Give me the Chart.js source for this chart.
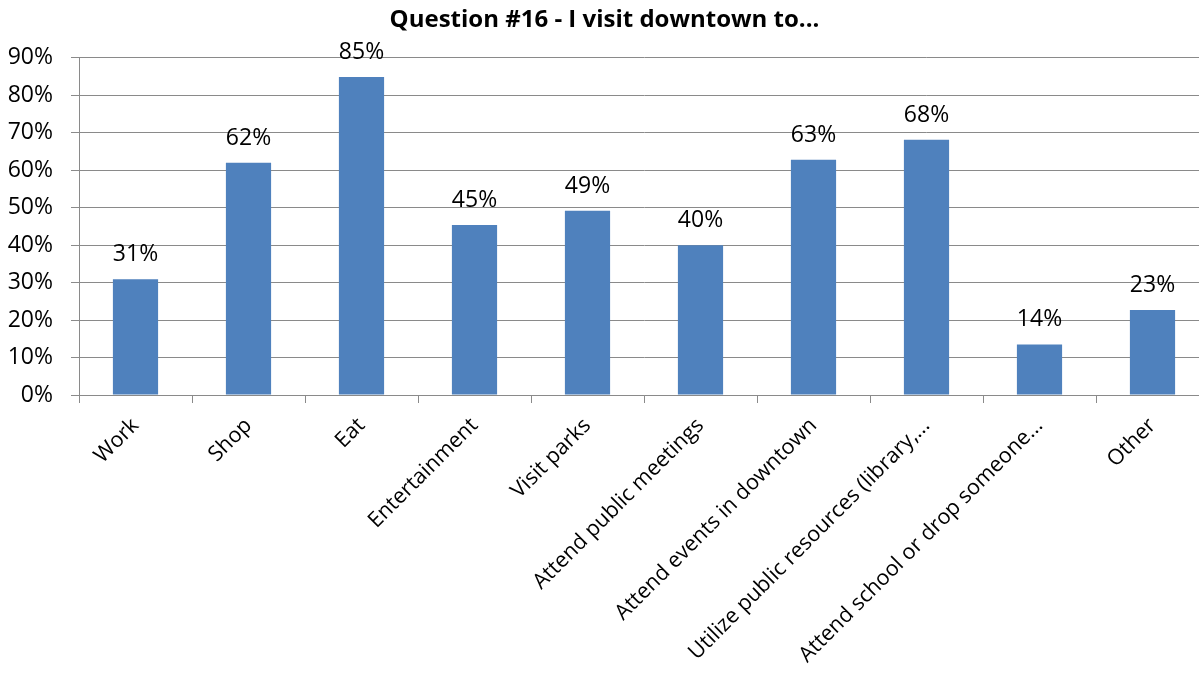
<!DOCTYPE html>
<html>
<head>
    <title>Question #16 - I visit downtown to...</title>
    <script src="https://cdn.jsdelivr.net/npm/chart.js"></script>
    <style>
        body {
            margin: 0;
            overflow: hidden;
            background: #fff;
        }
    </style>
</head>
<body>
    <canvas id="visit-chart" width="1226" height="675"></canvas>

    <script>
        // Chart data
        const categories = [
            'Work', 'Shop', 'Eat', 'Entertainment', 'Visit parks',
            'Attend public meetings', 'Attend events in downtown',
            'Utilize public resources (library,...', 'Attend school or drop someone...', 'Other'
        ];
        const percentValues = [30.9, 62.0, 84.9, 45.4, 49.2, 40.0, 62.8, 68.1, 13.5, 22.7];
        const yTicks = [0, 10, 20, 30, 40, 50, 60, 70, 80, 90];

        const FONT = '"Open Sans", Lato, sans-serif';
        const GRID = '#8a8a8a';

        // Draw value labels above each bar
        const barLabels = {
            id: 'barLabels',
            afterDatasetsDraw(chart) {
                const ctx = chart.ctx;
                const meta = chart.getDatasetMeta(0);
                ctx.save();
                ctx.font = '23px ' + FONT;
                ctx.fillStyle = '#000';
                ctx.textAlign = 'center';
                ctx.textBaseline = 'alphabetic';
                meta.data.forEach((bar, i) => {
                    ctx.fillText(Math.round(percentValues[i]) + '%', bar.x, bar.y - 18);
                });
                ctx.restore();
            }
        };

        const ctx = document.getElementById('visit-chart').getContext('2d');
        Chart.defaults.color = '#000';
        Chart.defaults.font.family = FONT;

        new Chart(ctx, {
            type: 'bar',
            data: {
                labels: categories,
                datasets: [{
                    data: percentValues,
                    backgroundColor: '#4f81bd',
                    borderWidth: 0,
                    categoryPercentage: 1.0,
                    barPercentage: 0.4
                }]
            },
            options: {
                responsive: false,
                animation: false,
                layout: {
                    padding: { left: 0, right: 17, top: 0, bottom: 0 }
                },
                plugins: {
                    legend: { display: false },
                    tooltip: { enabled: false },
                    title: {
                        display: true,
                        text: 'Question #16 - I visit downtown to...',
                        color: '#000',
                        font: { size: 24, weight: 'bold', family: FONT, lineHeight: 1.2 },
                        padding: { top: 6, bottom: 23 }
                    }
                },
                scales: {
                    x: {
                        grid: {
                            display: true,
                            drawOnChartArea: false,
                            drawTicks: true,
                            tickLength: 8,
                            color: GRID,
                            offset: true
                        },
                        border: { color: GRID, width: 1 },
                        ticks: {
                            minRotation: 45,
                            maxRotation: 45,
                            autoSkip: false,
                            padding: 10,
                            font: { size: 21.5 }
                        },
                        afterFit: (scale) => { scale.height = 280; }
                    },
                    y: {
                        min: 0,
                        max: 90,
                        afterBuildTicks: (scale) => {
                            scale.ticks = yTicks.map(v => ({ value: v }));
                        },
                        grid: {
                            color: GRID,
                            drawTicks: true,
                            tickLength: 8
                        },
                        border: { color: GRID, width: 1 },
                        ticks: {
                            padding: 18,
                            font: { size: 23 },
                            callback: (value) => value + '%'
                        },
                        afterFit: (scale) => { scale.width = 79; }
                    }
                }
            },
            plugins: [barLabels]
        });
    </script>
</body>
</html>
